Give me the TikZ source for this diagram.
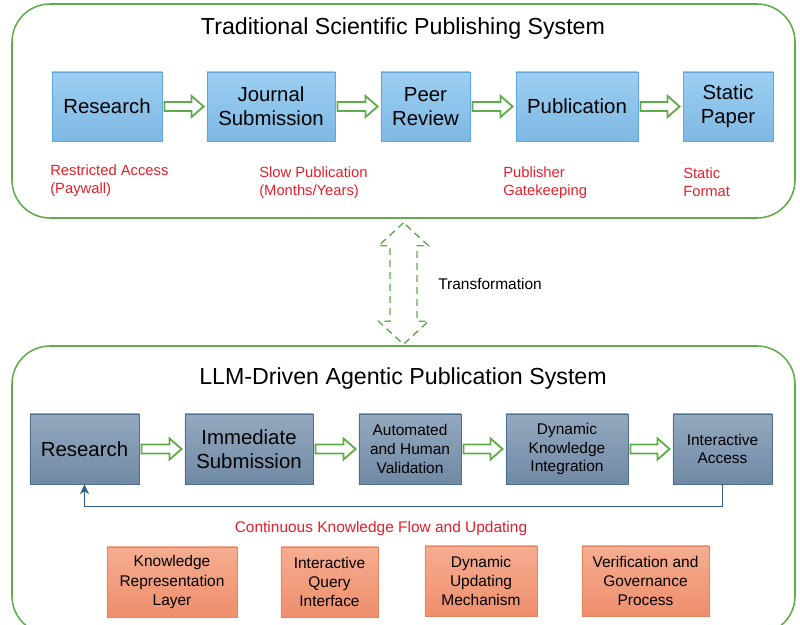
\documentclass[tikz,border=0pt]{standalone}
\usepackage{fontspec}
\setmainfont{Liberation Sans}
\usetikzlibrary{calc,fit,arrows.meta}
\definecolor{grn}{HTML}{5FAD4A}
\definecolor{ttop}{HTML}{9CCFF2}
\definecolor{tbot}{HTML}{7EB8E3}
\definecolor{tbord}{HTML}{5FA6DA}
\definecolor{btop}{HTML}{94A9BF}
\definecolor{bbot}{HTML}{7089A4}
\definecolor{bbord}{HTML}{4E6E8E}
\definecolor{otop}{HTML}{F6AD91}
\definecolor{obot}{HTML}{EE8E6C}
\definecolor{obord}{HTML}{E2865F}
\definecolor{redtxt}{HTML}{E4202C}
\definecolor{fbline}{HTML}{2E5F86}
\newcommand\harrow[2]{%
  \draw[harrowst] ($(#1.east)+(2,-4.5)$) -- ($(#2.west)+(-15,-4.5)$)
    -- ($(#2.west)+(-15,-10.5)$) -- ($(#2.west)+(-3,0)$)
    -- ($(#2.west)+(-15,10.5)$) -- ($(#2.west)+(-15,4.5)$)
    -- ($(#1.east)+(2,4.5)$) -- cycle;}
\begin{document}
\begin{tikzpicture}[x=0.025cm,y=-0.025cm,
  container/.style={draw=grn, line width=1.1pt, rounded corners=0.95cm, inner sep=0pt},
  titletxt/.style={font=\fontsize{16.5}{19}\selectfont, inner sep=0pt},
  tbox/.style={draw=tbord, line width=0.6pt, top color=ttop, bottom color=tbot,
    minimum height=1.725cm, inner sep=0pt, align=center, font=\fontsize{14.5}{17}\selectfont},
  bbox/.style={draw=bbord, line width=0.6pt, top color=btop, bottom color=bbot,
    minimum height=1.75cm, inner sep=0pt, align=center},
  bigf/.style={font=\fontsize{14.5}{17}\selectfont},
  smallf/.style={font=\fontsize{11}{13.3}\selectfont},
  obox/.style={draw=obord, line width=0.6pt, top color=otop, bottom color=obot,
    minimum height=1.75cm, inner sep=0pt, align=center, font=\fontsize{11}{13.6}\selectfont},
  redlbl/.style={text=redtxt, font=\fontsize{10.5}{13}\selectfont, align=left, anchor=west, inner sep=0pt},
  harrowst/.style={draw=grn, fill=white, line width=1.3pt, line join=miter},
  transst/.style={draw=grn, line width=1pt, dash pattern=on 5pt off 3.5pt},
  fbst/.style={draw=fbline, line width=1pt, -{Stealth[length=7pt,width=6.5pt]}},
  plaintxt/.style={font=\fontsize{11}{13}\selectfont, inner sep=0pt}]
\useasboundingbox (0,0) rectangle (800,624);
\clip (0,0) rectangle (800,624);

% containers
\node[container, fit={(12,4) (795,218)}] (topsys) {};
\node[container, fit={(12,346) (795,634)}] (botsys) {};

\node[titletxt] (ttitle) at (403,29) {Traditional Scientific Publishing System};
\node[titletxt] (btitle) at (403,378) {LLM-Driven Agentic Publication System};

% top row
\node[tbox, minimum width=2.75cm] (t1) at (107,106.5) {Research};
\node[tbox, minimum width=3.2cm] (t2) at (271,106.5) {Journal\\Submission};
\node[tbox, minimum width=2.225cm] (t3) at (425.5,106.5) {Peer\\Review};
\node[tbox, minimum width=3.05cm] (t4) at (577,106.5) {Publication};
\node[tbox, minimum width=2.25cm] (t5) at (728,106.5) {Static\\Paper};
\harrow{t1}{t2}
\harrow{t2}{t3}
\harrow{t3}{t4}
\harrow{t4}{t5}

% red labels
\node[redlbl] (l1) at (50,181) {Restricted Access\\(Paywall)};
\node[redlbl] (l2) at (259,183) {Slow Publication\\(Months/Years)};
\node[redlbl] (l3) at (503,183) {Publisher\\Gatekeeping};
\node[redlbl] (l4) at (683,182) {Static\\Format};

% transformation arrow
\coordinate (tt) at ($(topsys.south)+(0,4)$);
\coordinate (tb) at ($(botsys.north)+(0,-1)$);
\draw[transst] (tt) -- ($(tt)+(-25,23)$) -- ($(tt)+(-13.5,23)$) -- ($(tb)+(-13.5,-23)$)
  -- ($(tb)+(-25,-23)$) -- (tb) -- ($(tb)+(25,-23)$) -- ($(tb)+(13.5,-23)$)
  -- ($(tt)+(13.5,23)$) -- ($(tt)+(25,23)$) -- cycle;
\node[plaintxt, anchor=west] (trans) at (438,284) {Transformation};

% bottom row
\node[bbox, bigf, minimum width=2.725cm] (b1) at (84.5,449) {Research};
\node[bbox, bigf, minimum width=3.2cm] (b2) at (249,449) {Immediate\\Submission};
\node[bbox, smallf, minimum width=2.55cm] (b3) at (410,449) {Automated\\and Human\\Validation};
\node[bbox, smallf, minimum width=3.05cm] (b4) at (567,449) {Dynamic\\Knowledge\\Integration};
\node[bbox, smallf, minimum width=2.475cm] (b5) at (722.5,449) {Interactive\\Access};
\harrow{b1}{b2}
\harrow{b2}{b3}
\harrow{b3}{b4}
\harrow{b4}{b5}

% feedback
\draw[fbst] (b5.south) -- ++(0,22) -| (b1.south);
\node[plaintxt, text=redtxt] (flow) at (381,528) {Continuous Knowledge Flow and Updating};

% orange boxes
\node[obox, minimum width=3.25cm] (o1) at (172,582) {Knowledge\\Representation\\Layer};
\node[obox, minimum width=2.425cm] (o2) at (329.5,582) {Interactive\\Query\\Interface};
\node[obox, minimum width=2.8cm] (o3) at (481,581) {Dynamic\\Updating\\Mechanism};
\node[obox, minimum width=3.175cm] (o4) at (645.5,581) {Verification and\\Governance\\Process};
\end{tikzpicture}
\end{document}
